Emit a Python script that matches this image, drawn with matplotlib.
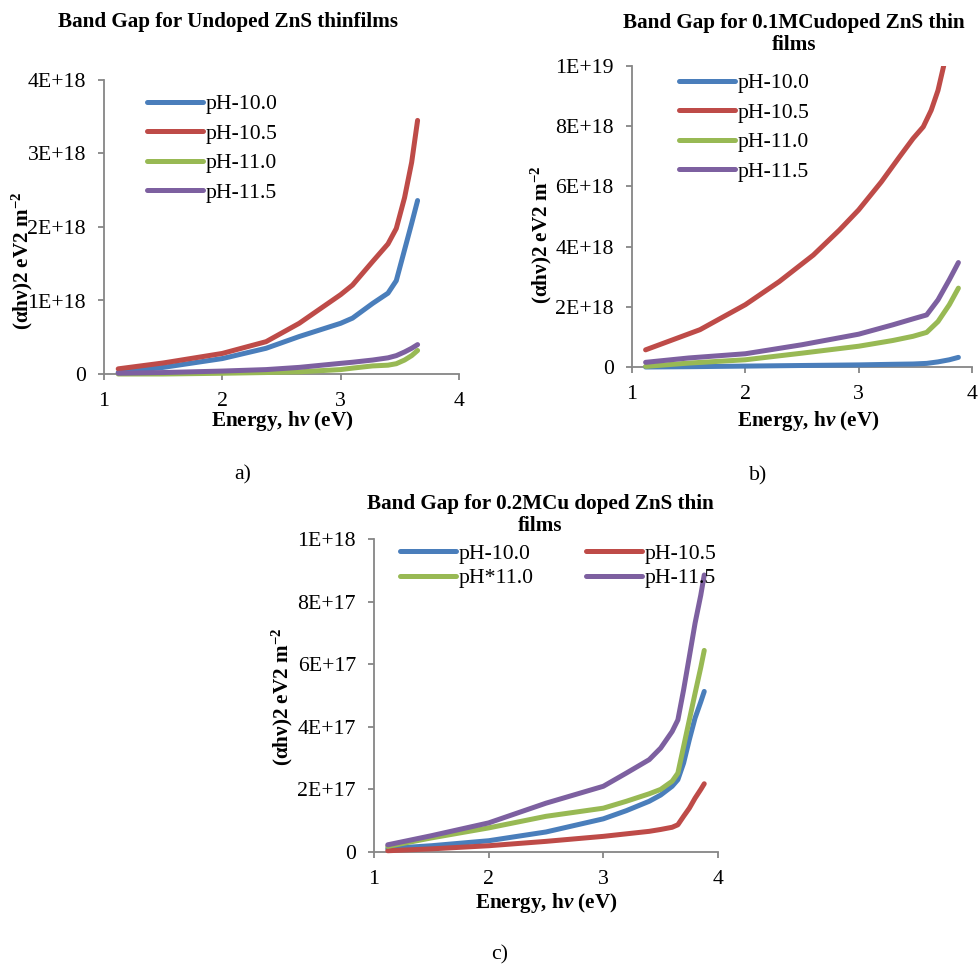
import numpy as np
import matplotlib
matplotlib.use("Agg")
import matplotlib.pyplot as plt

plt.rcParams['font.family'] = ['Liberation Serif', 'DejaVu Serif']
plt.rcParams['mathtext.fontset'] = 'custom'
plt.rcParams['mathtext.rm'] = 'Liberation Serif:bold'
plt.rcParams['mathtext.it'] = 'Liberation Serif:bold:italic'
plt.rcParams['mathtext.bf'] = 'Liberation Serif:bold'
plt.rcParams['mathtext.default'] = 'regular'

# ---------------- data ----------------
series_names = ['pH-10.0', 'pH-10.5', 'pH-11.0', 'pH-11.5']
series_names_c = ['pH-10.0', 'pH-10.5', 'pH*11.0', 'pH-11.5']
colors = ['#4A7EBB', '#BE4B48', '#98B954', '#7D60A0']

# Panel a: undoped (units 1e18)
xa = [1.12, 1.5, 2.0, 2.37, 2.65, 3.0, 3.1, 3.27, 3.4, 3.47, 3.54, 3.6, 3.65]
a_ph100 = [0.02, 0.09, 0.21, 0.35, 0.51, 0.69, 0.76, 0.96, 1.10, 1.27, 1.69, 2.05, 2.36]
a_ph105 = [0.07, 0.15, 0.28, 0.44, 0.69, 1.08, 1.21, 1.53, 1.77, 1.98, 2.40, 2.88, 3.45]
a_ph110 = [0.0, 0.0, 0.01, 0.02, 0.03, 0.06, 0.08, 0.11, 0.12, 0.14, 0.19, 0.25, 0.32]
a_ph115 = [0.01, 0.02, 0.04, 0.06, 0.09, 0.145, 0.16, 0.19, 0.22, 0.25, 0.30, 0.35, 0.40]

# Panel b: 0.1M Cu doped (units 1e18)
xb_red = [1.12, 1.6, 2.0, 2.3, 2.6, 2.83, 3.0, 3.2, 3.36, 3.48, 3.57, 3.64, 3.7, 3.75]
b_ph105 = [0.57, 1.24, 2.07, 2.84, 3.72, 4.55, 5.22, 6.15, 6.98, 7.59, 7.98, 8.53, 9.19, 10.0]
xb = [1.12, 1.5, 2.0, 2.5, 3.0, 3.3, 3.48, 3.6, 3.7, 3.8, 3.88]
b_ph100 = [0.0, 0.01, 0.03, 0.05, 0.07, 0.09, 0.10, 0.12, 0.17, 0.24, 0.32]
b_ph110 = [0.02, 0.13, 0.24, 0.46, 0.69, 0.88, 1.02, 1.15, 1.51, 2.07, 2.62]
b_ph115 = [0.155, 0.30, 0.44, 0.74, 1.09, 1.40, 1.60, 1.73, 2.23, 2.90, 3.47]

# Panel c: 0.2M Cu doped (units 1e17)
xc = [1.12, 1.5, 2.0, 2.5, 3.0, 3.2, 3.4, 3.5, 3.6, 3.65, 3.7, 3.75, 3.8, 3.85, 3.88]
c_ph100 = [0.11, 0.20, 0.36, 0.64, 1.06, 1.32, 1.62, 1.82, 2.10, 2.31, 2.84, 3.59, 4.28, 4.80, 5.13]
c_ph105 = [0.04, 0.10, 0.20, 0.34, 0.50, 0.58, 0.66, 0.72, 0.79, 0.87, 1.14, 1.40, 1.72, 2.00, 2.18]
c_ph110 = [0.18, 0.45, 0.77, 1.14, 1.40, 1.62, 1.86, 2.00, 2.26, 2.52, 3.37, 4.22, 5.07, 5.90, 6.44]
c_ph115 = [0.23, 0.52, 0.93, 1.56, 2.10, 2.52, 2.95, 3.32, 3.85, 4.22, 5.18, 6.24, 7.31, 8.21, 8.85]

xticks = [1, 2, 3, 4]
yticks_a = [0, 1e18, 2e18, 3e18, 4e18]
ylabels_a = ['0', '1E+18', '2E+18', '3E+18', '4E+18']
yticks_b = [0, 2e18, 4e18, 6e18, 8e18, 1e19]
ylabels_b = ['0', '2E+18', '4E+18', '6E+18', '8E+18', '1E+19']
yticks_c = [0, 2e17, 4e17, 6e17, 8e17, 1e18]
ylabels_c = ['0', '2E+17', '4E+17', '6E+17', '8E+17', '1E+18']

# ---------------- figure ----------------
W, H = 979, 964
fig = plt.figure(figsize=(W / 100, H / 100), dpi=100)

def px_axes(l, t, r, b):
    return fig.add_axes([l / W, 1 - b / H, (r - l) / W, (b - t) / H])

FS = 15.7     # regular text
FSB = 15.2    # bold text
AXC = '#868686'

def style(ax, yt, yl, ymax):
    ax.set_xlim(1, 4)
    ax.set_ylim(0, ymax)
    ax.set_xticks(xticks)
    ax.set_xticklabels([str(v) for v in xticks])
    ax.set_yticks(yt)
    ax.set_yticklabels(yl)
    for s in ['top', 'right']:
        ax.spines[s].set_visible(False)
    for s in ['left', 'bottom']:
        ax.spines[s].set_color(AXC)
        ax.spines[s].set_linewidth(1.3)
    ax.tick_params(axis='both', colors=AXC, length=4, width=1.3, labelsize=FS,
                   labelcolor='black')
    ax.tick_params(axis='x', pad=9)
    ax.tick_params(axis='y', pad=9)

def plot_line(ax, x, y, scale, color, label, clip=False):
    return ax.plot(np.array(x), np.array(y) * scale, color=color, lw=3.6, label=label,
                   solid_capstyle='round', solid_joinstyle='round', clip_on=clip,
                   zorder=3)[0]

ylab = r'(αhν)2 eV2 m$^{-2}$'
xlab = r'Energy, h$\mathit{\nu}$ (eV)'

leg_kw = dict(bbox_transform=fig.transFigure, frameon=False, fontsize=FS,
              handlelength=2.55, handletextpad=0.15, borderpad=0, borderaxespad=0)

# Panel a
axa = px_axes(104, 80, 459, 374)
for y, c, n in zip([a_ph100, a_ph105, a_ph110, a_ph115], colors, series_names):
    plot_line(axa, xa, y, 1e18, c, n)
style(axa, yticks_a, ylabels_a, 4e18)
axa.legend(loc='center left', bbox_to_anchor=(147 / W, 1 - 148.5 / H),
           labelspacing=0.42, **leg_kw)

# Panel b
axb = px_axes(632, 66, 972, 367)
plot_line(axb, xb, b_ph100, 1e18, colors[0], series_names[0])
plot_line(axb, xb_red, b_ph105, 1e18, colors[1], series_names[1], clip=True)
plot_line(axb, xb, b_ph110, 1e18, colors[2], series_names[2])
plot_line(axb, xb, b_ph115, 1e18, colors[3], series_names[3])
style(axb, yticks_b, ylabels_b, 1e19)
axb.legend(loc='center left', bbox_to_anchor=(679 / W, 1 - 127.5 / H),
           labelspacing=0.42, **leg_kw)

# Panel c
axc = px_axes(374, 539, 718, 852)
hc = []
for y, c, n in zip([c_ph100, c_ph105, c_ph110, c_ph115], colors, series_names_c):
    hc.append(plot_line(axc, xc, y, 1e17, c, n))
style(axc, yticks_c, ylabels_c, 1e18)
order = [0, 2, 1, 3]   # row-wise legend order as in reference
axc.legend([hc[i] for i in order], [series_names_c[i] for i in order],
           loc='center left', bbox_to_anchor=(400 / W, 1 - 566 / H), ncol=2,
           labelspacing=0.18, columnspacing=2.4, **leg_kw)

def ftext(x, y, s, size=FS, **kw):
    fig.text(x / W, 1 - y / H, s, ha='center', va='center', fontsize=size, **kw)

# titles
ftext(228, 22, 'Band Gap for Undoped ZnS thinfilms', size=FSB, fontweight='bold')
ftext(794, 34, 'Band Gap for 0.1MCudoped ZnS thin\nfilms', size=FSB, fontweight='bold', linespacing=1.1)
ftext(540, 515, 'Band Gap for 0.2MCu doped ZnS thin\nfilms', size=FSB, fontweight='bold', linespacing=1.1)

# x labels
ftext(282, 421, xlab, size=FSB, fontweight='bold')
ftext(808, 421, xlab, size=FSB, fontweight='bold')
ftext(546, 903, xlab, size=FSB, fontweight='bold')

# y labels
ftext(22, 261, ylab, size=FSB, fontweight='bold', rotation=90)
ftext(541, 235, ylab, size=FSB, fontweight='bold', rotation=90)
ftext(282, 697, ylab, size=FSB, fontweight='bold', rotation=90)

# captions
ftext(243, 475, 'a)')
ftext(758, 476, 'b)')
ftext(500, 955, 'c)')

fig.savefig('out.png', dpi=100)
